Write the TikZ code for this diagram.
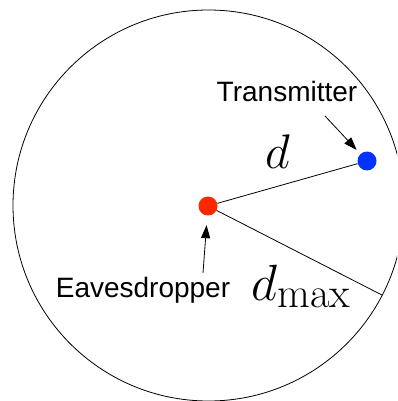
\documentclass[tikz,border=0pt]{standalone}
\usepackage{fontspec}
\newfontfamily\labfont{Liberation Sans}
\usetikzlibrary{arrows.meta,calc}
\definecolor{evered}{RGB}{255,38,0}
\definecolor{txblue}{RGB}{4,51,255}
\begin{document}
\begin{tikzpicture}[x=1pt,y=-1pt,
  dot/.style={circle,inner sep=0pt,minimum size=19pt},
  lab/.style={font=\labfont\fontsize{28}{30}\selectfont,inner sep=0pt},
  mlab/.style={font=\fontsize{24.88}{26}\selectfont,inner sep=0pt,scale=1.95},
  arr/.style={-{Triangle[length=13pt,width=9pt]},line width=0.8pt},
  edgeline/.style={line width=0.8pt}]
\useasboundingbox (0,0) rectangle (397,401);
\begin{scope}
  \clip (0,0) rectangle (397,401);
  \draw[edgeline] (208.5,205.5) circle[radius=195.5pt];
\end{scope}
\node[dot,fill=evered] (eve) at (208,206) {};
\node[dot,fill=txblue] (tx) at (367,161) {};
\coordinate (rim) at ($(208.5,205.5)+(-27.3:195.5pt)$);
\draw[edgeline] (eve) -- (tx);
\draw[edgeline] (eve) -- (rim);
\coordinate (dpos) at (278,168);
\coordinate (dmaxpos) at (251,300);
\node[mlab,anchor=base] (dlab) at (dpos) {$d$};
\node[mlab,scale=1.05,anchor=base west] (dmax) at (dmaxpos) {$d_{\max}$};
\node[lab,anchor=base] (txlab) at (287,102) {Transmitter};
\node[lab,anchor=base] (evelab) at (143,297) {Eavesdropper};
\coordinate (txtail) at (325,116);
\coordinate (evetail) at (203,273);
\draw[arr,shorten >=5.5pt] (txtail) -- (tx);
\draw[arr,shorten >=9.5pt] (evetail) -- (eve);
\end{tikzpicture}
\end{document}
